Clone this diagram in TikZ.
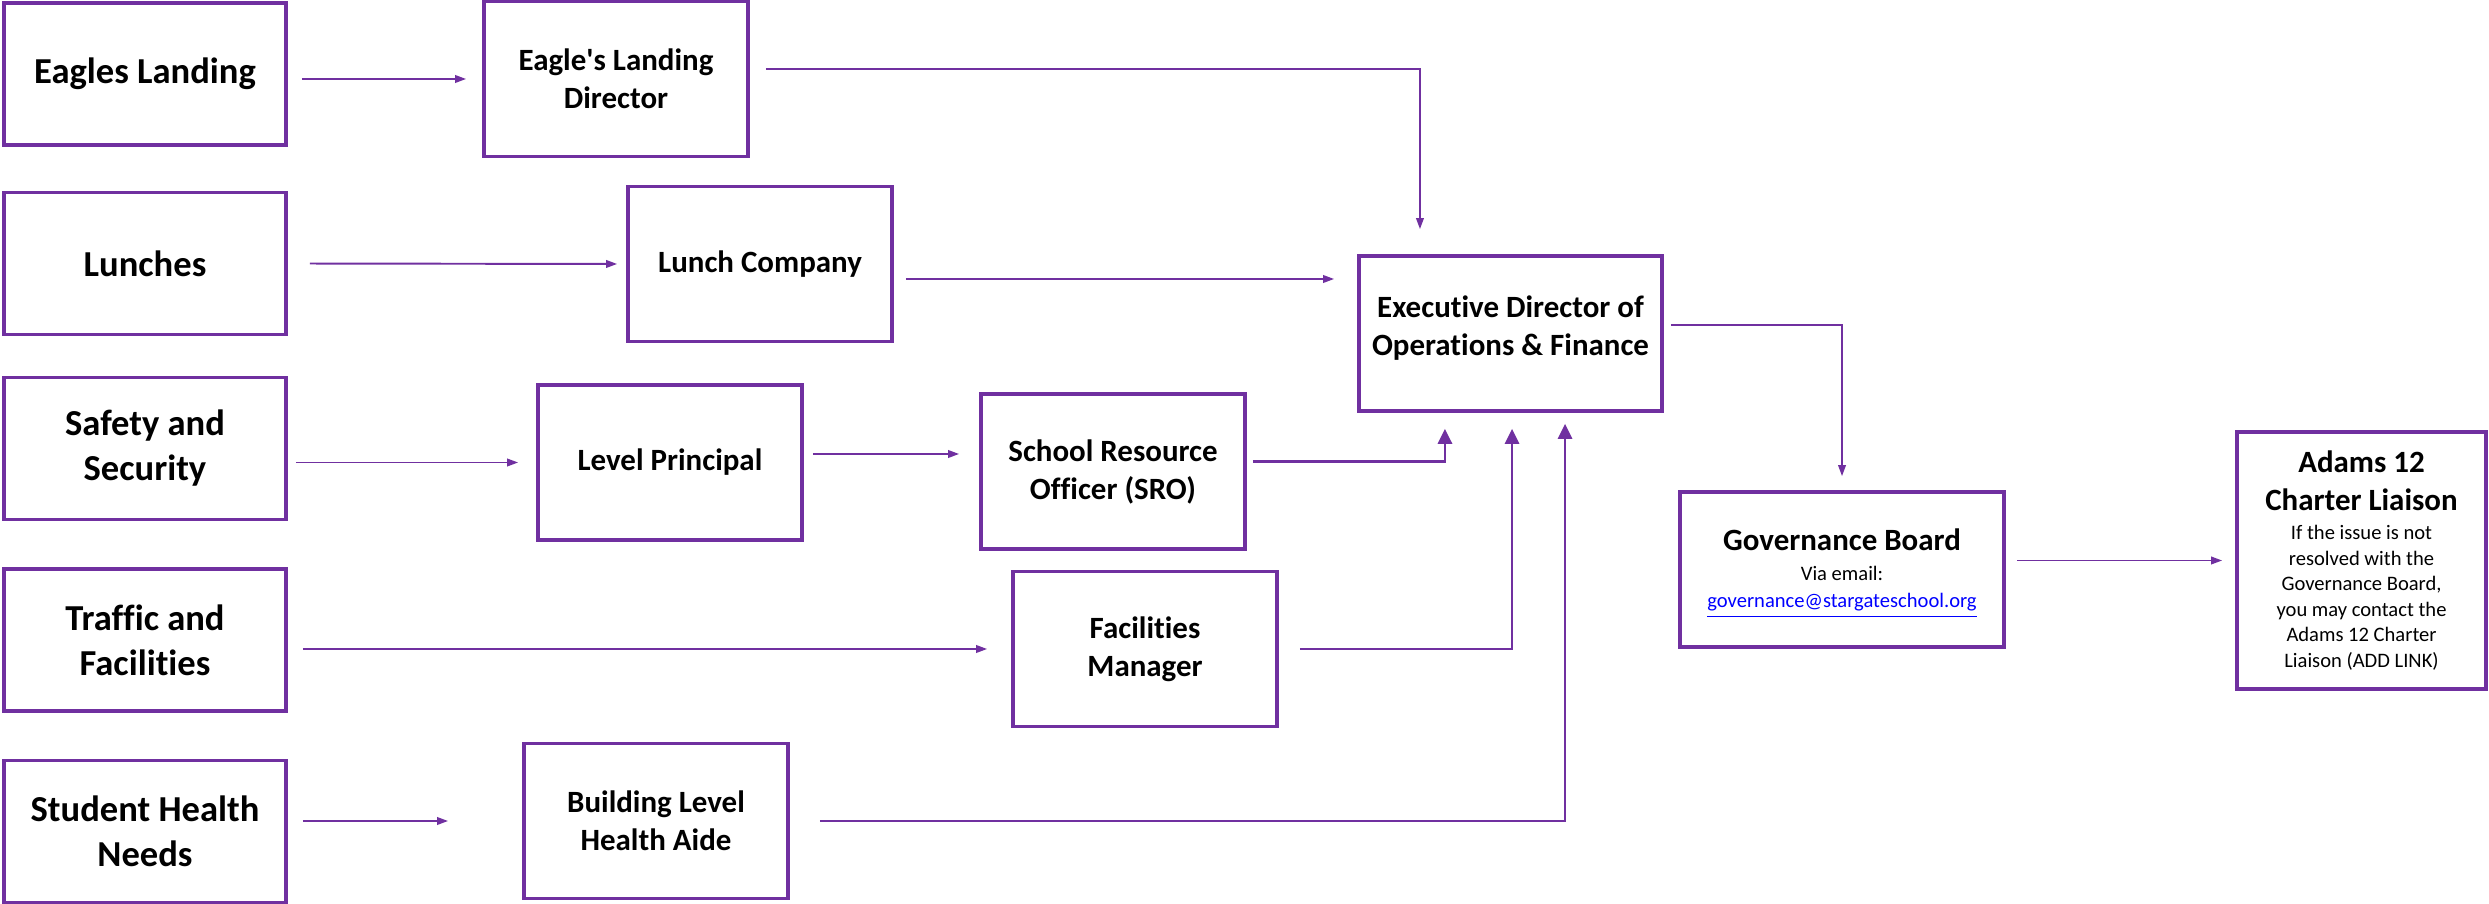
\documentclass[tikz,border=0pt]{standalone}
\usepackage{fontspec}
\setmainfont{Carlito}[Ligatures={TeXOff,NoCommon}]
\usetikzlibrary{arrows.meta}
\definecolor{orgpurple}{HTML}{7030A0}
\definecolor{linkblue}{HTML}{0000FF}
\newcommand\sm{\fontsize{5.85}{7.25}\selectfont\mdseries}
\begin{document}
\begin{tikzpicture}[x=0.01cm, y=-0.01cm,
        every node/.style={draw=orgpurple, line width=1pt, align=center, inner sep=0pt},
        big/.style={font=\fontsize{10.4}{12.8}\selectfont\bfseries, minimum width=2.82cm, minimum height=1.42cm},
        mid/.style={font=\fontsize{8.8}{10.8}\selectfont\bfseries, minimum width=2.64cm, minimum height=1.55cm},
        link/.style={draw=orgpurple, line width=0.55pt, -{Triangle[length=0.11cm, width=0.075cm]}},
        uplink/.style={draw=orgpurple, line width=0.8pt, -{Triangle[length=0.15cm, width=0.14cm]}}]
    \useasboundingbox (0,0) rectangle (2489,904);

    % issues
    \node[big] (el) at (145,74) {Eagles Landing};
    \node[big] (lun) at (145,263.5) {Lunches};
    \node[big] (saf) at (145,448.5) {Safety and\\Security};
    \node[big] (tra) at (145,640) {Traffic and\\Facilities};
    \node[big] (shn) at (145,831.5) {Student Health\\Needs};

    % first contacts
    \node[mid] (eld) at (616,79) {Eagle's Landing\\Director};
    \node[mid] (lc) at (760,264) {Lunch Company};
    \node[mid] (lp) at (670,462.5) {Level Principal};
    \node[mid] (sro) at (1113,471.5) {School Resource\\Officer (SRO)};
    \node[mid] (fm) at (1145,649) {Facilities\\Manager};
    \node[mid] (bha) at (656,821) {Building Level\\Health Aide};

    % escalation
    \node[mid, minimum width=3.03cm] (exec) at (1510.5,333.5) {Executive Director of\\Operations \& Finance\rule[-0.16cm]{0pt}{0.1cm}};
    \node[mid, minimum width=3.24cm] (gov) at (1842,569.5)
        {\rule{0pt}{0.3cm}Governance Board\\[-2.4pt]\sm Via email:\\[-2.9pt]\sm\textcolor{linkblue}{\underline{governance@stargateschool.org}}};
    \node[mid, minimum width=2.49cm, minimum height=2.57cm] (adm) at (2361.5,560.5)
        {Adams 12\\Charter Liaison\\[-2.55pt]\sm If the issue is not\\[-3.55pt]\sm resolved with the\\[-3.55pt]\sm Governance Board,\\[-3.55pt]\sm you may contact the\\[-3.55pt]\sm Adams 12 Charter\\[-3.55pt]\sm Liaison (ADD LINK)};

    \draw[link, shorten <=0.14cm, shorten >=0.16cm] (el.east |- eld.west) -- (eld.west);
    \draw[link, shorten <=0.22cm, shorten >=0.09cm] (lun.east) -- (lc.west);
    \draw[link, shorten <=0.08cm, shorten >=0.18cm] (saf.east |- lp.west) -- (lp.west);
    \draw[link, shorten <=0.09cm, shorten >=0.2cm] ([yshift=0.085cm]lp.east) coordinate (lpout) -- (lpout -| sro.west);
    \draw[link, shorten <=0.15cm, shorten >=0.24cm] (tra.east |- fm.west) -- (fm.west);
    \draw[link, shorten <=0.15cm, shorten >=0.74cm] (shn.east |- bha.west) -- (bha.west);

    \draw[link, shorten <=0.16cm, shorten >=0.25cm] ([yshift=0.1cm]eld.east) -| ([xshift=-0.905cm]exec.north);
    \draw[link, shorten <=0.12cm, shorten >=0.23cm] ([yshift=-0.15cm]lc.east) coordinate (lcout) -- (lcout -| exec.west);
    \draw[uplink, shorten <=0.06cm, shorten >=0.16cm] ([yshift=0.1cm]sro.east) -| ([xshift=-0.655cm]exec.south);
    \draw[uplink, shorten <=0.21cm, shorten >=0.16cm] (fm.east) -| ([xshift=0.015cm]exec.south);
    \draw[uplink, shorten <=0.3cm, shorten >=0.11cm] (bha.east) -| ([xshift=0.545cm]exec.south);

    \draw[link, shorten <=0.07cm, shorten >=0.14cm] ([yshift=0.085cm]exec.east) -| (gov.north);
    \draw[link, shorten <=0.11cm, shorten >=0.13cm] (gov.east |- adm.west) -- (adm.west);
\end{tikzpicture}
\end{document}
